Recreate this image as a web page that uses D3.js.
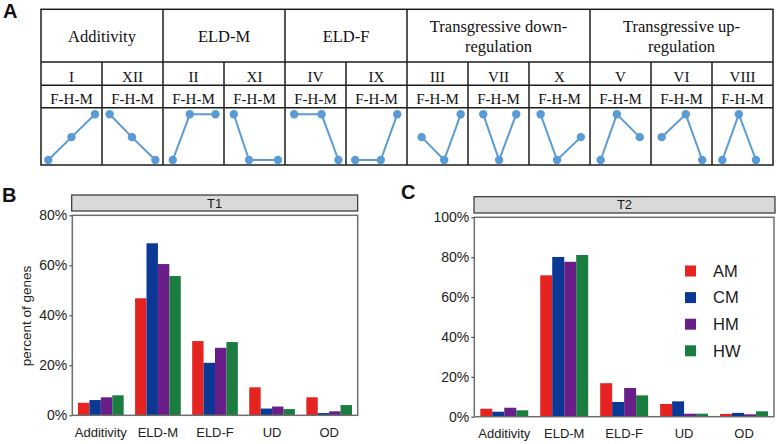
<!DOCTYPE html>
<html><head><meta charset="utf-8">
<script src="https://cdn.jsdelivr.net/npm/d3@7"></script>
<style>body{margin:0;background:#fff} svg{display:block}</style>
</head><body><svg id="c" width="777" height="444"></svg>
<script>
// ---------- data ----------
const categories = ["Additivity","ELD-M","ELD-F","UD","OD"];
const groups = ["AM","CM","HM","HW"];
const colors = ["#e52421","#0a3894","#6a1e8a","#1b7c3f"];
const t1AM = [5.0,46.8,29.7,11.2,7.2];
const t1CM = [6.1,68.8,21.0,2.7,0.9];
const t1HM = [7.2,60.5,27.0,3.5,1.6];
const t1HW = [8.0,55.7,29.3,2.5,4.1];
const t2AM = [4.0,70.9,16.8,6.4,1.4];
const t2CM = [2.5,80.1,7.4,7.7,1.9];
const t2HM = [4.5,77.7,14.4,1.5,1.2];
const t2HW = [3.2,81.1,10.7,1.5,2.7];
const t1Ticks = [0,20,40,60,80];
const t2Ticks = [0,20,40,60,80,100];

const tableGroups = [["Additivity"],["ELD-M"],["ELD-F"],["Transgressive down-","regulation"],["Transgressive up-","regulation"]];
const patternNames = ["I","XII","II","XI","IV","IX","III","VII","X","V","VI","VIII"];
const patternGroup = [0,0,1,1,2,2,3,3,3,4,4,4];
const patternLabel = "F-H-M";
// expression level of F, H, M (0 low, 1 mid, 2 high)
const patternLevels = [[0,1,2],[2,1,0],[0,2,2],[2,0,0],[2,2,0],[0,0,2],[1,0,2],[2,0,2],[2,0,1],[0,2,1],[1,2,0],[0,2,0]];
// relative horizontal position of F, H, M inside each cell
const patternX = [[.12,.50,.885],[.125,.49,.875],[.16,.44,.86],[.16,.41,.885],[.15,.60,.875],[.15,.57,.84],
                  [.24,.61,.88],[.25,.51,.79],[.19,.46,.85],[.175,.44,.815],[.175,.57,.84],[.17,.44,.72]];

// ---------- table (panel A) ----------
const svg = d3.select("#c");
const serif = "'Liberation Serif','Times New Roman',serif";
const sans = "'Liberation Sans',Arial,Helvetica,sans-serif";
const tx = d3.scaleBand().domain(d3.range(12)).range([41,773]);
const rows = [9.3, 62, 85.3, 107.7, 165];
const A = svg.append("g");
const lineCol = "#1c1c1c", lw = 1.5;
// outer box
A.append("rect").attr("x",41).attr("y",rows[0]).attr("width",773-41).attr("height",rows[4]-rows[0])
 .attr("fill","none").attr("stroke",lineCol).attr("stroke-width",lw);
[rows[1],rows[2],rows[3]].forEach(y=>A.append("line").attr("x1",41).attr("x2",773).attr("y1",y).attr("y2",y)
 .attr("stroke",lineCol).attr("stroke-width",lw));
for (let i=1;i<12;i++){
  const full = patternGroup[i]!==patternGroup[i-1];
  A.append("line").attr("x1",tx(i)).attr("x2",tx(i)).attr("y1",full?rows[0]:rows[1]).attr("y2",rows[4])
   .attr("stroke",lineCol).attr("stroke-width",lw);
}
tableGroups.forEach((lines,g)=>{
  const idx = d3.range(12).filter(i=>patternGroup[i]===g);
  const cx = (tx(idx[0]) + tx(idx[idx.length-1]) + tx.bandwidth())/2;
  const base = lines.length===1 ? [42] : [32.3,52.3];
  lines.forEach((t,k)=>A.append("text").attr("x",cx).attr("y",base[k]).attr("text-anchor","middle")
    .attr("font-family",serif).attr("font-size",16.5).attr("fill","#111").text(t));
});
patternNames.forEach((n,i)=>{
  const cx = tx(i)+tx.bandwidth()/2;
  A.append("text").attr("x",cx).attr("y",81.7).attr("text-anchor","middle").attr("font-family",serif)
   .attr("font-size",15).attr("fill","#111").text(n);
  A.append("text").attr("x",cx).attr("y",104.3).attr("text-anchor","middle").attr("font-family",serif)
   .attr("font-size",15).attr("fill","#111").text(patternLabel);
});
const ly = d3.scaleLinear().domain([0,2]).range([160,114.3]);
patternLevels.forEach((lv,i)=>{
  const px = d3.scaleLinear().domain([0,1]).range([tx(i), tx(i)+tx.bandwidth()]);
  const pts = lv.map((v,k)=>[px(patternX[i][k]), ly(v)]);
  A.append("path").attr("d",d3.line()(pts)).attr("fill","none").attr("stroke","#5b9bd5").attr("stroke-width",2);
  pts.forEach(p=>A.append("circle").attr("cx",p[0]).attr("cy",p[1]).attr("r",4.2).attr("fill","#5b9bd5"));
});
svg.append("text").attr("x",3).attr("y",18).attr("font-family",sans).attr("font-weight","bold")
  .attr("font-size",20).attr("fill","#111").text("A");

// ---------- bar panels ----------
function panel(opts){
  const {x0,x1,y0,yTop,maxV,ticks,series,strip,label,labelX,labelY,ylab,legend,stripBox} = opts;
  const g = svg.append("g");
  const x = d3.scaleBand().domain(categories).range([x0,x1]).paddingInner(0.2).paddingOuter(0.1);
  const xi = d3.scaleBand().domain(groups).range([0,x.bandwidth()]);
  const y = d3.scaleLinear().domain([0,maxV]).range([y0,yTop]);
  // strip
  g.append("rect").attr("x",stripBox[0]).attr("y",stripBox[1]).attr("width",stripBox[2]-stripBox[0])
   .attr("height",stripBox[3]-stripBox[1]).attr("fill","#d9d9d9").attr("stroke","#333").attr("stroke-width",1.2);
  g.append("text").attr("x",(stripBox[0]+stripBox[2])/2).attr("y",(stripBox[1]+stripBox[3])/2+4.6)
   .attr("text-anchor","middle").attr("font-family",sans).attr("font-size",13).attr("fill","#1a1a1a").text(strip);
  // bars
  series.forEach((vals,s)=>{
    g.selectAll(null).data(vals).enter().append("rect")
      .attr("x",(d,i)=>x(categories[i])+xi(groups[s]))
      .attr("width",xi.bandwidth())
      .attr("y",d=>y(d)).attr("height",d=>y(0)-y(d))
      .attr("fill",colors[s]);
  });
  // border
  g.append("rect").attr("x",x0).attr("y",yTop).attr("width",x1-x0).attr("height",y0-yTop)
   .attr("fill","none").attr("stroke","#6e6e6e").attr("stroke-width",1.5);
  // y axis
  const ya = g.append("g").attr("transform",`translate(${x0},0)`)
    .call(d3.axisLeft(y).tickValues(ticks).tickSize(3).tickPadding(2).tickFormat(d=>d+"%"));
  ya.select(".domain").remove();
  ya.selectAll("line").attr("stroke","#555").attr("stroke-width",1.2);
  ya.selectAll("text").attr("font-family",sans).attr("font-size",14).attr("fill","#222");
  // x axis
  const xa = g.append("g").attr("transform",`translate(0,${y0})`).call(d3.axisBottom(x).tickSize(0).tickPadding(0));
  xa.select(".domain").remove();
  xa.selectAll("text").attr("font-family",sans).attr("font-size",13).attr("fill","#222").attr("dy",null).attr("y",21.5);
  if (ylab){
    g.append("text").attr("transform",`translate(${ylab[0]},${ylab[1]}) rotate(-90)`).attr("text-anchor","middle")
     .attr("font-family",sans).attr("font-size",13.5).attr("fill","#222").text(ylab[2]);
  }
  g.append("text").attr("x",labelX).attr("y",labelY).attr("font-family",sans).attr("font-weight","bold")
   .attr("font-size",20).attr("fill","#111").text(label);
  if (legend){
    groups.forEach((gname,k)=>{
      const cy = legend[1] + k*26.6;
      g.append("rect").attr("x",legend[0]).attr("y",cy-5.5).attr("width",11).attr("height",11).attr("fill",colors[k]);
      g.append("text").attr("x",legend[0]+28).attr("y",cy+5.8).attr("font-family",sans).attr("font-size",16.5)
       .attr("fill","#1a1a1a").text(gname);
    });
  }
}
panel({x0:72.3,x1:357.7,y0:415.3,yTop:215.3,maxV:80,ticks:t1Ticks,series:[t1AM,t1CM,t1HM,t1HW],
  strip:"T1",stripBox:[71.7,195,357.7,211],label:"B",labelX:2,labelY:202,ylab:[31,316,"percent of genes"]});
panel({x0:474.3,x1:774,y0:416.7,yTop:217.3,maxV:100,ticks:t2Ticks,series:[t2AM,t2CM,t2HM,t2HW],
  strip:"T2",stripBox:[474,196.7,775,213],label:"C",labelX:401,labelY:199,legend:[685,271]});
</script></body></html>
